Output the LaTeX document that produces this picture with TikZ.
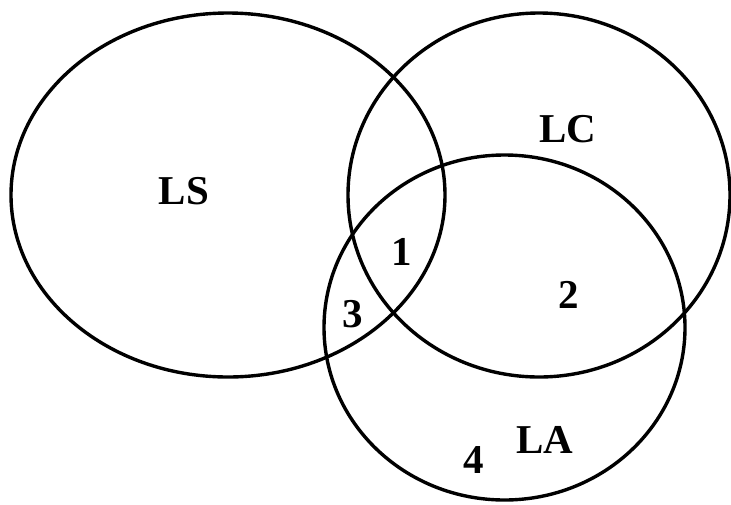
\documentclass[tikz,border=0pt]{standalone}
\usepackage{fontspec}
\setmainfont{Liberation Serif}
\begin{document}
\begin{tikzpicture}[x=1pt,y=-1pt,
  setline/.style={line width=3.4pt,black},
  lbl/.style={font=\fontsize{41}{48}\selectfont\bfseries,inner sep=0pt}]
\useasboundingbox (0,0) rectangle (731,504);
\coordinate (cS) at (228,195);
\coordinate (cC) at (539,195);
\coordinate (cA) at (504.5,327.5);
\draw[setline] (cS) ellipse (217 and 182);
\draw[setline] (cC) ellipse (191 and 182);
\draw[setline] (cA) ellipse (180.5 and 172.5);
\node[lbl] (LS) at (184,191) {LS};
\node[lbl] (LC) at (568,129) {LC};
\node[lbl] (LA) at (545,440) {LA};
\node[lbl] (n1) at (402,252) {1};
\node[lbl] (n2) at (569,295) {2};
\node[lbl] (n3) at (353,314) {3};
\node[lbl] (n4) at (474,460) {4};
\end{tikzpicture}
\end{document}
